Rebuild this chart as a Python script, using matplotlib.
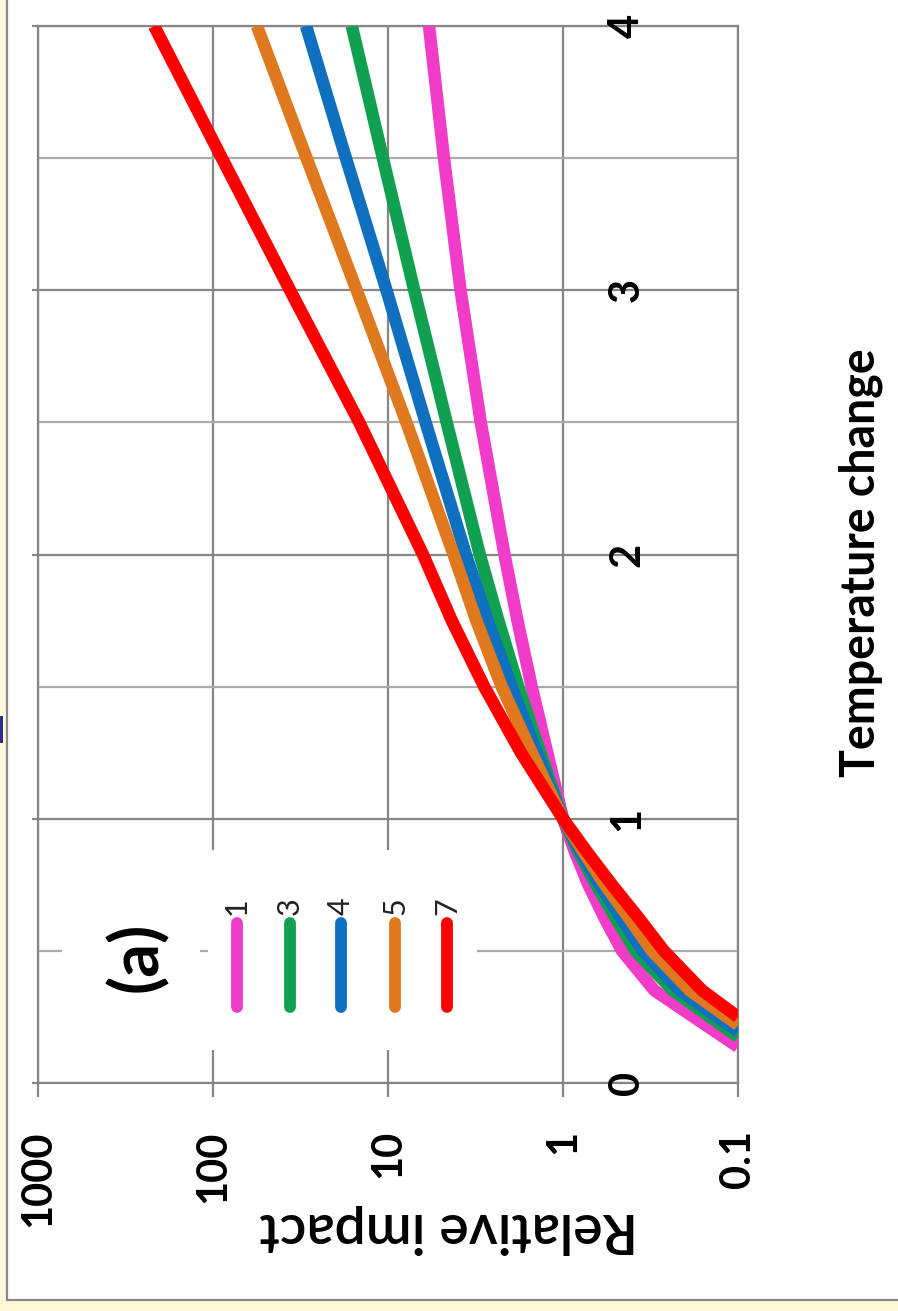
import numpy as np
import matplotlib.pyplot as plt
from matplotlib.patches import Rectangle
from matplotlib.ticker import NullLocator

plt.rcParams['font.family'] = ['Lato', 'DejaVu Sans']

# the chart is drawn turned a quarter turn: impact runs right->left, temperature bottom->top
W, H = 898, 1311

series_names = ['1', '3', '4', '5', '7']
series_colors = ['#F03CC8', '#10A050', '#1070C0', '#E0781E', '#FF0000']

# temperature where each curve leaves the 0.1 floor
start_temp = [0.137, 0.175, 0.195, 0.22, 0.25]
temps = [0.35, 0.5, 0.625, 0.75, 0.875, 1.0, 1.25, 1.5, 1.75, 2.0, 2.5, 3.0, 3.5, 4.0]
impact_1 = [0.30, 0.46, 0.58, 0.716, 0.855, 1.0, 1.23, 1.51, 1.82, 2.16, 2.95, 3.85, 4.79, 5.83]
impact_3 = [0.235, 0.385, 0.50, 0.645, 0.815, 1.0, 1.35, 1.80, 2.34, 2.99, 4.62, 7.08, 10.7, 16.1]
impact_4 = [0.214, 0.35, 0.465, 0.615, 0.795, 1.0, 1.41, 1.97, 2.69, 3.59, 6.1, 10.2, 17.4, 29.4]
impact_5 = [0.188, 0.31, 0.42, 0.575, 0.765, 1.0, 1.51, 2.24, 3.13, 4.22, 7.85, 15.1, 29.2, 56.1]
impact_7 = [0.16, 0.265, 0.37, 0.525, 0.73, 1.0, 1.74, 2.82, 4.32, 6.31, 14.6, 36.3, 89.0, 217.0]
impacts = [impact_1, impact_3, impact_4, impact_5, impact_7]

impact_ticks = [1000, 100, 10, 1, 0.1]
impact_labels = ['1000', '100', '10', '1', '0.1']
temp_ticks = [0, 1, 2, 3, 4]
temp_labels = ['0', '1', '2', '3', '4']

dark = '#868686'
light = '#ababab'


def fx(x):
    return x / W


def fy(y):
    return 1 - y / H


fig = plt.figure(figsize=(W / 100, H / 100), dpi=100)
fig.patch.set_facecolor('#FFF9DA')
fig.patches.append(Rectangle((fx(7), fy(1300)), 1.2, 1.2, transform=fig.transFigure,
                             facecolor='white', edgecolor='#8a8a8a', lw=1.6, zorder=-5))
fig.patches.append(Rectangle((0, fy(743)), fx(2.5), 27 / H, transform=fig.transFigure,
                             facecolor='#2b2b90', edgecolor='none', zorder=-4))

ax = fig.add_axes([fx(38), fy(1083), fx(738) - fx(38), fy(26) - fy(1083)])
ax.set_facecolor('white')
ax.set_xscale('log')
ax.set_xlim(1000, 0.1)
ax.set_ylim(0, 4)

for name, col, t0, vals in zip(series_names, series_colors, start_temp, impacts):
    ax.plot([0.1] + vals, [t0] + temps, color=col, lw=9, solid_capstyle='butt',
            solid_joinstyle='round', zorder=3)

ax.set_xticks(impact_ticks)
ax.set_xticklabels(impact_labels, rotation=90, fontsize=30, fontweight='bold')
ax.xaxis.set_minor_locator(NullLocator())
ax.tick_params(axis='x', length=10, width=1.6, color=dark, pad=24)
ax.set_yticks(temp_ticks)
ax.set_yticklabels([])
ax.set_yticks([0.5, 1.5, 2.5, 3.5], minor=True)
ax.tick_params(axis='y', which='major', length=4.5, width=1.6, color=dark)
ax.tick_params(axis='y', which='minor', length=0)
ax.set_axisbelow(True)
ax.grid(which='major', color=dark, lw=1.6)
ax.grid(which='minor', axis='y', color=light, lw=1.6)
for s in ax.spines.values():
    s.set_color(dark)
    s.set_linewidth(1.6)

for t, lab in zip(temp_ticks, temp_labels):
    ax.text(0.43, t, lab, rotation=90, ha='center', va='center',
            fontsize=30, fontweight='bold')

fig.text(fx(449), fy(1229), 'Relative impact', rotation=180, ha='center', va='center',
         fontsize=40, fontweight='semibold')
fig.text(fx(861), fy(563), 'Temperature change', rotation=90, ha='center', va='center',
         fontsize=33.5, fontweight='bold')

# legend (drawn by hand since it sits turned with the chart)
ax.add_patch(Rectangle((fx(62), fy(1050)), fx(200) - fx(62), fy(850) - fy(1050),
                       transform=fig.transFigure, facecolor='white', edgecolor='none', zorder=1))
ax.add_patch(Rectangle((fx(208), fy(1050)), fx(477) - fx(208), fy(850) - fy(1050),
                       transform=fig.transFigure, facecolor='white', edgecolor='none', zorder=1))
fig.text(fx(137), fy(957), '(a)', rotation=90, ha='center', va='center',
         fontsize=48, fontweight='bold')
leg_x = [237, 290, 341, 395, 447]
for lx, name, col in zip(leg_x, series_names, series_colors):
    ax.plot([fx(lx), fx(lx)], [fy(923), fy(1007)], color=col, lw=8.5,
            solid_capstyle='round', transform=fig.transFigure, clip_on=False, zorder=4)
    fig.text(fx(lx), fy(906), name, rotation=90, ha='center', va='center',
             fontsize=22, color='#222222')

fig.savefig('out.png', dpi=100)
